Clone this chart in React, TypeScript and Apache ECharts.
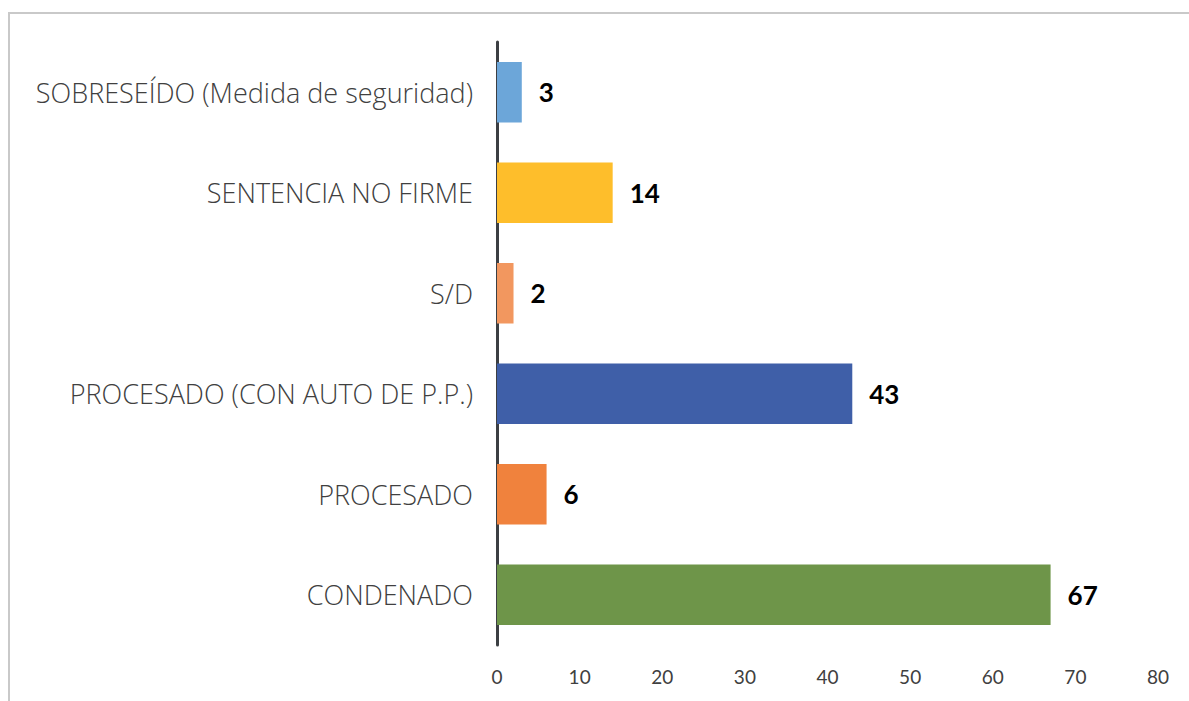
import React, { useEffect, useRef } from "react";
import * as echarts from "echarts";

const categories = [
  "CONDENADO",
  "PROCESADO",
  "PROCESADO (CON AUTO DE P.P.)",
  "S/D",
  "SENTENCIA NO FIRME",
  "SOBRESEÍDO (Medida de seguridad)",
];
const values = [67, 6, 43, 2, 14, 3];
const barColors = ["#6E9549", "#F0823D", "#3F5FA8", "#F2975F", "#FEBE2B", "#6CA6D9"];
const xTicks = [0, 10, 20, 30, 40, 50, 60, 70, 80];

export default function App() {
  const ref = useRef<HTMLDivElement>(null);
  useEffect(() => {
    if (!ref.current) return;
    const chart = echarts.init(ref.current, undefined, { renderer: "svg" });
    chart.setOption({
      animation: false,
      backgroundColor: "#ffffff",
      grid: { left: 497, right: 31, top: 42, bottom: 56, containLabel: false },
      graphic: [
        {
          type: "rect",
          shape: { x: 9, y: 13, width: 1400, height: 900 },
          style: { fill: "none", stroke: "#c9c9c9", lineWidth: 2 },
          silent: true,
        },
      ],
      xAxis: {
        type: "value",
        min: xTicks[0],
        max: xTicks[xTicks.length - 1],
        interval: 10,
        axisLine: { show: false },
        axisTick: { show: false },
        splitLine: { show: false },
        axisLabel: {
          color: "#404040",
          fontSize: 19,
          fontFamily: "Lato",
          margin: 22,
        },
      },
      yAxis: {
        type: "category",
        data: categories,
        axisLine: { show: true, lineStyle: { color: "#3c3f43", width: 3 } },
        axisTick: { show: false },
        axisLabel: {
          color: "#404040",
          fontSize: 27,
          fontWeight: 300,
          fontFamily: "'Open Sans', Lato, sans-serif",
          margin: 24,
        },
      },
      series: [
        {
          type: "bar",
          data: values.map((v, i) => ({ value: v, itemStyle: { color: barColors[i] } })),
          barCategoryGap: "40%",
          label: {
            show: true,
            position: "right",
            distance: 17,
            color: "#000000",
            fontSize: 26,
            fontWeight: "bold",
            fontFamily: "Lato",
          },
        },
      ],
    });
    return () => chart.dispose();
  }, []);
  return (
    <div
      ref={ref}
      style={{ position: "fixed", left: 0, top: 0, width: 1189, height: 701 }}
    />
  );
}
